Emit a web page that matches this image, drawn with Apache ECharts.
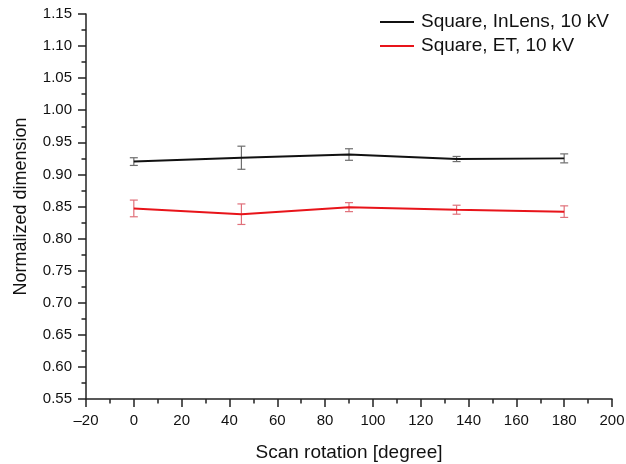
<!DOCTYPE html>
<html>
<head>
<meta charset="utf-8">
<script src="https://cdn.jsdelivr.net/npm/echarts@6/dist/echarts.min.js"></script>
<style>
  html, body { margin: 0; padding: 0; background: #fff; }
  #chart { width: 626px; height: 464px; }
</style>
</head>
<body>
<div id="chart"></div>
<script>
// Scan rotation angles (degrees)
const rotations = [0, 45, 90, 135, 180];

// Normalized dimension, InLens detector
const inlensMean = [0.920, 0.926, 0.931, 0.924, 0.925];
const inlensErr  = [0.006, 0.018, 0.009, 0.004, 0.007];

// Normalized dimension, ET detector
const etMean = [0.847, 0.838, 0.849, 0.845, 0.842];
const etErr  = [0.013, 0.016, 0.007, 0.007, 0.009];

const seriesNames = ['Square, InLens, 10 kV', 'Square, ET, 10 kV'];

const FONT = 'Liberation Sans, Arial, sans-serif';
const AXIS_COLOR = '#222';

function pairs(xs, ys) { return xs.map((x, i) => [x, ys[i]]); }
function errRows(xs, ys, es) { return xs.map((x, i) => [x, ys[i] - es[i], ys[i] + es[i]]); }

function errorBarRenderer(color) {
  return function (params, api) {
    const x = api.value(0);
    const lo = api.coord([x, api.value(1)]);
    const hi = api.coord([x, api.value(2)]);
    const half = 4;
    const style = { stroke: color, lineWidth: 1.2, fill: null };
    return {
      type: 'group',
      children: [
        { type: 'line', shape: { x1: lo[0], y1: lo[1], x2: hi[0], y2: hi[1] }, style },
        { type: 'line', shape: { x1: lo[0] - half, y1: lo[1], x2: lo[0] + half, y2: lo[1] }, style },
        { type: 'line', shape: { x1: hi[0] - half, y1: hi[1], x2: hi[0] + half, y2: hi[1] }, style }
      ]
    };
  };
}

const chart = echarts.init(document.getElementById('chart'), null, { renderer: 'canvas' });

chart.setOption({
  animation: false,
  backgroundColor: '#fff',
  textStyle: { fontFamily: FONT },
  grid: { left: 86, right: 14, top: 14, bottom: 65, containLabel: false, outerBoundsMode: 'none' },
  legend: {
    orient: 'vertical',
    left: 375,
    top: 7,
    itemWidth: 34,
    itemHeight: 2,
    itemGap: 4,
    icon: 'rect',
    textStyle: { fontSize: 19, color: '#111', fontFamily: FONT, lineHeight: 20, padding: [0, 0, 0, 2] },
    data: seriesNames
  },
  xAxis: {
    type: 'value',
    min: -20,
    max: 200,
    interval: 20,
    name: 'Scan rotation [degree]',
    nameLocation: 'middle',
    nameGap: 44,
    nameTextStyle: { fontSize: 19, color: '#111', fontFamily: FONT },
    axisLine: { show: true, onZero: false, lineStyle: { color: AXIS_COLOR, width: 1.5 } },
    axisTick: { show: true, inside: false, length: 8, lineStyle: { color: AXIS_COLOR, width: 1.5 } },
    minorTick: { show: true, splitNumber: 2, length: 4.5, lineStyle: { color: AXIS_COLOR, width: 1.5 } },
    splitLine: { show: false },
    axisLabel: {
      fontSize: 15, color: '#111', margin: 14, fontFamily: FONT,
      formatter: v => String(v).replace('-', '\u2013')
    }
  },
  yAxis: {
    type: 'value',
    min: 0.55,
    max: 1.15,
    interval: 0.05,
    name: 'Normalized dimension',
    nameLocation: 'middle',
    nameGap: 56,
    nameTextStyle: { fontSize: 18, color: '#111', fontFamily: FONT },
    axisLine: { show: true, onZero: false, lineStyle: { color: AXIS_COLOR, width: 1.5 } },
    axisTick: { show: true, inside: false, length: 8, lineStyle: { color: AXIS_COLOR, width: 1.5 } },
    minorTick: { show: true, splitNumber: 2, length: 4.5, lineStyle: { color: AXIS_COLOR, width: 1.5 } },
    splitLine: { show: false },
    axisLabel: {
      fontSize: 15, color: '#111', margin: 14, fontFamily: FONT,
      formatter: v => v.toFixed(2)
    }
  },
  series: [
    {
      name: seriesNames[0],
      type: 'line',
      data: pairs(rotations, inlensMean),
      symbol: 'none',
      lineStyle: { color: '#111', width: 2 },
      itemStyle: { color: '#111' },
      z: 3
    },
    {
      name: seriesNames[1],
      type: 'line',
      data: pairs(rotations, etMean),
      symbol: 'none',
      lineStyle: { color: '#e8141a', width: 2 },
      itemStyle: { color: '#e8141a' },
      z: 3
    },
    {
      type: 'custom',
      name: 'inlens-err',
      data: errRows(rotations, inlensMean, inlensErr),
      renderItem: errorBarRenderer('#6e6e6e'),
      encode: { x: 0, y: [1, 2] },
      z: 2,
      silent: true
    },
    {
      type: 'custom',
      name: 'et-err',
      data: errRows(rotations, etMean, etErr),
      renderItem: errorBarRenderer('#e0707a'),
      encode: { x: 0, y: [1, 2] },
      z: 2,
      silent: true
    }
  ]
});
</script>
</body>
</html>
